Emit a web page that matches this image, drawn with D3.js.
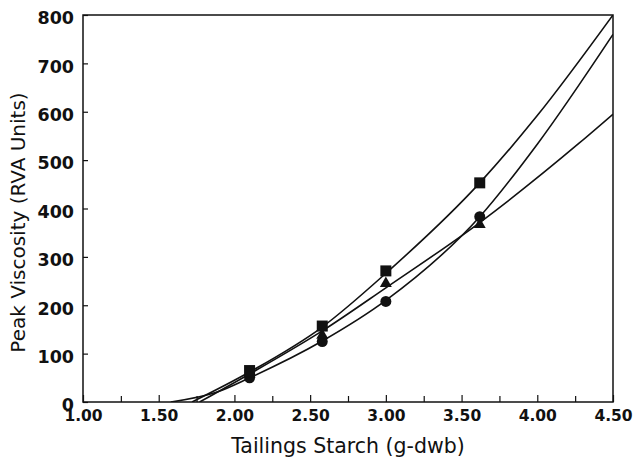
<!DOCTYPE html>
<html>
<head>
<meta charset="utf-8">
<script src="https://cdn.jsdelivr.net/npm/d3@7/dist/d3.min.js"></script>
<style>
  html, body { margin: 0; padding: 0; background: #fff; }
  svg { display: block; }
  text { font-family: "DejaVu Sans", "Liberation Sans", sans-serif; fill: #111; }
</style>
</head>
<body>
<svg id="chart" width="634" height="459"></svg>
<script>
// Starch dose levels where viscosity was measured
const doses = [2.10, 2.58, 3.00, 3.62];

// Measured peak viscosity (RVA units) for each treatment
const squareValues   = [65, 157, 271, 453];
const triangleValues = [58, 138, 245, 367];
const circleValues   = [50, 125, 208, 383];

// Points along each fitted regression curve
const squareFitX   = [1.72, 2.10, 2.58, 3.00, 3.62, 4.00, 4.50];
const squareFitY   = [0, 62, 155, 266, 453, 592, 800];
const triangleFitX = [1.77, 2.10, 2.58, 3.00, 3.62, 4.28, 4.50];
const triangleFitY = [0, 58, 147, 236, 371, 536, 595];
const circleFitX   = [1.58, 1.88, 2.10, 2.58, 3.00, 3.62, 4.00, 4.50];
const circleFitY   = [0, 20, 50, 126, 210, 383, 533, 760];

// Axis ticks
const xLabelTicks = [1.00, 1.50, 2.00, 2.50, 3.00, 3.50, 4.00, 4.50];
const xMinorTicks = [1.25, 1.75, 2.25, 2.75, 3.25, 3.75, 4.25];
const yTicks = [0, 100, 200, 300, 400, 500, 600, 700, 800];

const margin = { left: 83, right: 21, top: 15, bottom: 57 };
const W = 634, H = 459;
const svg = d3.select("#chart");

const x = d3.scaleLinear().domain([1.0, 4.5]).range([margin.left, W - margin.right]);
const y = d3.scaleLinear().domain([0, 800]).range([H - margin.bottom, margin.top]);

svg.append("defs").append("clipPath").attr("id", "plot-clip")
  .append("rect")
  .attr("x", x(1.0)).attr("y", y(800))
  .attr("width", x(4.5) - x(1.0)).attr("height", y(0) - y(800));

// Bottom axis: inward ticks, labels below
const xAxis = d3.axisBottom(x).tickValues(xLabelTicks)
  .tickSizeInner(-7).tickSizeOuter(0).tickPadding(8)
  .tickFormat(d3.format(".2f"));
const gx = svg.append("g").attr("transform", `translate(0,${y(0)})`).call(xAxis);
gx.select(".domain").remove();
gx.selectAll(".tick line").attr("stroke", "#111").attr("stroke-width", 1.2);
gx.selectAll(".tick text").attr("font-size", 15.5).attr("font-weight", "bold")
  .attr("fill", "#111");

const xMinor = d3.axisBottom(x).tickValues(xMinorTicks)
  .tickSizeInner(-6).tickSizeOuter(0).tickFormat("");
const gxm = svg.append("g").attr("transform", `translate(0,${y(0)})`).call(xMinor);
gxm.select(".domain").remove();
gxm.selectAll(".tick line").attr("stroke", "#111").attr("stroke-width", 1.2);

// Left axis: inward ticks, labels to the left
const yAxis = d3.axisLeft(y).tickValues(yTicks)
  .tickSizeInner(-5).tickSizeOuter(0).tickPadding(9)
  .tickFormat(d3.format("d"));
const gy = svg.append("g").attr("transform", `translate(${x(1.0)},0)`).call(yAxis);
gy.select(".domain").remove();
gy.selectAll(".tick line").attr("stroke", "#111").attr("stroke-width", 1.2);
gy.selectAll(".tick text").attr("font-size", 17.5).attr("font-weight", "bold")
  .attr("fill", "#111").attr("dy", "0.5em");

// Plot frame
svg.append("rect")
  .attr("x", x(1.0)).attr("y", y(800))
  .attr("width", x(4.5) - x(1.0)).attr("height", y(0) - y(800))
  .attr("fill", "none").attr("stroke", "#111").attr("stroke-width", 1.5);

// Fitted curves
const line = d3.line().x(d => x(d[0])).y(d => y(d[1])).curve(d3.curveMonotoneX);
const fits = [
  d3.zip(squareFitX, squareFitY),
  d3.zip(triangleFitX, triangleFitY),
  d3.zip(circleFitX, circleFitY)
];
svg.append("g").attr("clip-path", "url(#plot-clip)")
  .selectAll("path").data(fits).join("path")
  .attr("d", line)
  .attr("fill", "none").attr("stroke", "#111").attr("stroke-width", 1.6);

// Markers
const marks = svg.append("g");
marks.selectAll("circle").data(d3.zip(doses, circleValues)).join("circle")
  .attr("cx", d => x(d[0])).attr("cy", d => y(d[1])).attr("r", 5.5).attr("fill", "#111");
marks.selectAll("path.tri").data(d3.zip(doses, triangleValues)).join("path")
  .attr("class", "tri")
  .attr("d", d3.symbol().type(d3.symbolTriangle).size(62))
  .attr("transform", d => `translate(${x(d[0])},${y(d[1])})`).attr("fill", "#111");
marks.selectAll("rect").data(d3.zip(doses, squareValues)).join("rect")
  .attr("x", d => x(d[0]) - 5.5).attr("y", d => y(d[1]) - 5.5)
  .attr("width", 11).attr("height", 11).attr("fill", "#111");

// Axis titles
svg.append("text")
  .attr("x", (x(1.0) + x(4.5)) / 2).attr("y", 453)
  .attr("text-anchor", "middle").attr("font-size", 20.5)
  .text("Tailings Starch (g-dwb)");
svg.append("text")
  .attr("transform", `translate(25,${(y(0) + y(800)) / 2 + 14}) rotate(-90)`)
  .attr("text-anchor", "middle").attr("font-size", 20)
  .text("Peak Viscosity (RVA Units)");
</script>
</body>
</html>
